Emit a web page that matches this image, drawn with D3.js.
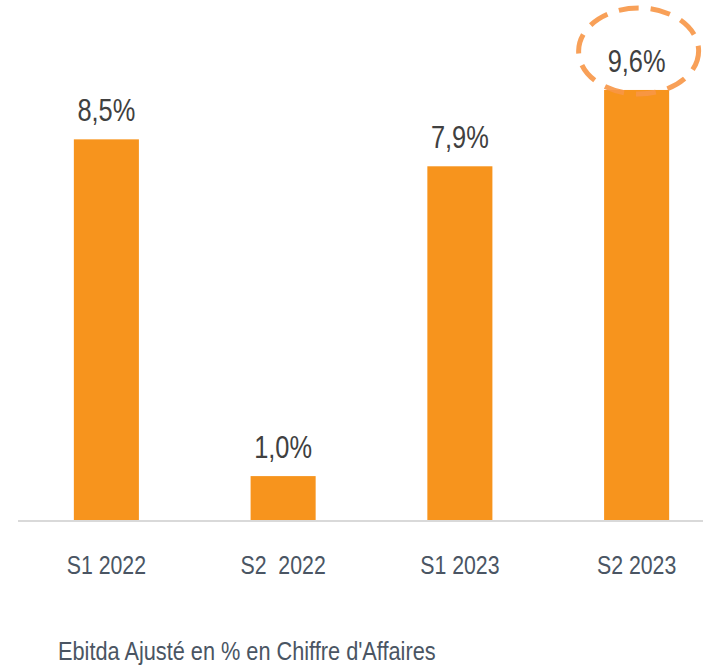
<!DOCTYPE html>
<html>
<head>
<meta charset="utf-8">
<script src="https://cdn.jsdelivr.net/npm/d3@7"></script>
<style>
  body { margin: 0; background: #fff; }
  text { font-family: "Liberation Sans", Arial, sans-serif; }
</style>
</head>
<body>
<div id="chart"></div>
<script>
const categories = ["S1 2022", "S2  2022", "S1 2023", "S2 2023"];
const values = [8.5, 1.0, 7.9, 9.6];
const valueLabels = ["8,5%", "1,0%", "7,9%", "9,6%"];
const caption = "Ebitda Ajusté en % en Chiffre d'Affaires";

const width = 703, height = 665;
const baseline = 521;
const narrow = 0.82; // squeeze text horizontally, like Arial Narrow

const svg = d3.select("#chart")
    .append("svg")
    .attr("width", width)
    .attr("height", height);

const x = d3.scaleBand().domain(categories).range([18, 725]).paddingInner(0.632).paddingOuter(0.316);
const y = d3.scaleLinear().domain([0, 10]).range([baseline, baseline - 449]);

// bars
svg.selectAll(".bar")
    .data(values)
    .enter()
    .append("rect")
    .attr("x", (d, i) => x(categories[i]))
    .attr("y", d => y(d))
    .attr("width", x.bandwidth())
    .attr("height", d => y(0) - y(d))
    .attr("fill", "#F7941D");

// axis line
svg.append("line")
    .attr("x1", 18).attr("x2", width)
    .attr("y1", baseline).attr("y2", baseline)
    .attr("stroke", "#d9d9d9")
    .attr("stroke-width", 2);

// value labels
svg.selectAll(".val")
    .data(values)
    .enter()
    .append("text")
    .attr("transform", (d, i) => `translate(${x(categories[i]) + x.bandwidth() / 2},${y(d) - 18}) scale(${narrow},1)`)
    .attr("text-anchor", "middle")
    .style("font-size", "31px")
    .attr("fill", "#404040")
    .text((d, i) => valueLabels[i]);

// category labels
svg.selectAll(".cat")
    .data(categories)
    .enter()
    .append("text")
    .attr("transform", d => `translate(${x(d) + x.bandwidth() / 2},574) scale(${narrow},1)`)
    .attr("text-anchor", "middle")
    .style("font-size", "26px")
    .style("white-space", "pre")
    .attr("fill", "#4a5563")
    .text(d => d);

// dashed highlight around last value
const last = categories.length - 1;
svg.append("ellipse")
    .attr("cx", x(categories[last]) + x.bandwidth() / 2 + 2)
    .attr("cy", y(values[last]) - 39)
    .attr("rx", 60)
    .attr("ry", 43)
    .attr("fill", "none")
    .attr("stroke", "#F79646")
    .attr("stroke-opacity", 0.9)
    .attr("stroke-width", 5)
    .attr("stroke-dasharray", "20,12");

// caption
svg.append("text")
    .attr("transform", `translate(58,660) scale(${narrow},1)`)
    .style("font-size", "26.5px")
    .attr("fill", "#4a5563")
    .text(caption);
</script>
</body>
</html>
